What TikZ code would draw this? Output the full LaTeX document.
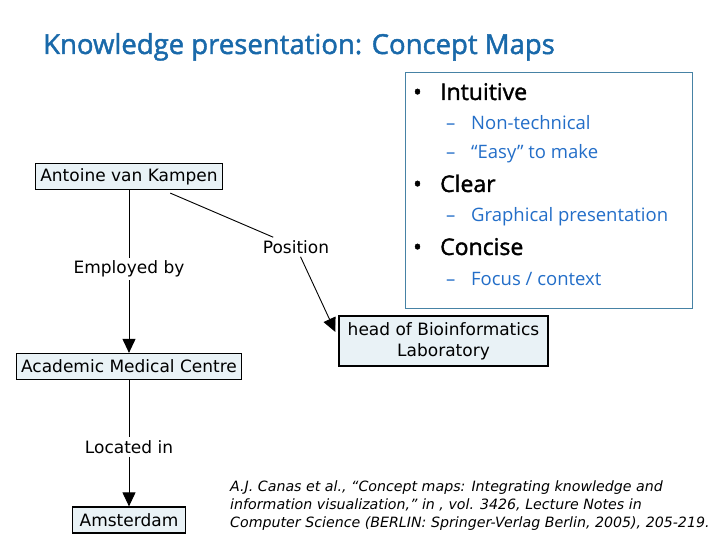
\documentclass[tikz,border=0pt]{standalone}
\usepackage{fontspec}
\setmainfont{DejaVu Sans}
\newfontfamily\slidefont{Open Sans}
\newfontfamily\slideboldfont[FakeBold=1.6]{Open Sans}
\usetikzlibrary{arrows.meta}
\definecolor{titleblue}{RGB}{25,105,170}
\definecolor{itemblue}{RGB}{35,110,200}
\definecolor{frameblue}{RGB}{70,130,165}
\definecolor{conceptfill}{RGB}{233,242,246}

\tikzset{
  concept/.style={draw=black, fill=conceptfill, line width=1.2pt, align=center,
    font=\fontsize{17}{21}\selectfont, inner xsep=5pt, inner ysep=4pt, minimum height=26pt},
  linklabel/.style={font=\fontsize{17}{21}\selectfont, inner sep=3pt},
  linkarrow/.style={-{Triangle[width=13pt,length=14pt]}, line width=0.9pt},
  bulletitem/.style={anchor=base west, inner sep=0pt, font=\slideboldfont\fontsize{23}{26}\selectfont},
  subitem/.style={anchor=base west, inner sep=0pt, text=itemblue, font=\slidefont\fontsize{18.5}{22}\selectfont},
}

\begin{document}
\begin{tikzpicture}[x=1pt,y=-1pt]
\useasboundingbox (0,0) rectangle (720,540);
\node[anchor=base west, inner sep=0pt, text=titleblue, font=\slideboldfont\fontsize{27.5}{32}\selectfont] (title) at (43,54) {Knowledge presentation: Concept Maps};
%features box
\draw[frameblue, line width=1pt] (405,73) rectangle (692,308);
\node[bulletitem] (intuitive) at (413,100) {\makebox[27pt][l]{•}Intuitive};
\node[subitem] (nontech) at (446,130) {\makebox[25pt][l]{–}Non-technical};
\node[subitem] (easy) at (446,159) {\makebox[25pt][l]{–}“Easy” to make};
\node[bulletitem] (clear) at (413,192) {\makebox[27pt][l]{•}Clear};
\node[subitem] (graphical) at (446,222) {\makebox[25pt][l]{–}Graphical presentation};
\node[bulletitem] (concise) at (413,255) {\makebox[27pt][l]{•}Concise};
\node[subitem] (focus) at (446,285) {\makebox[25pt][l]{–}Focus / context};
%concept map
\node[concept] (kampen) at (129,176.5) {Antoine van Kampen};
\node[concept] (amc) at (129,366.5) {Academic Medical Centre};
\node[concept, minimum width=113pt] (amsterdam) at (129,520) {Amsterdam};
\node[concept, minimum height=50pt, minimum width=209pt] (bioinf) at (443.5,341) {head of Bioinformatics\\Laboratory};
\node[linklabel] (employed) at (129,269) {Employed by};
\node[linklabel] (position) at (296,247) {Position};
\node[linklabel] (located) at (129,447) {Located in};
\coordinate (kampenout) at ([xshift=-53pt,yshift=-3pt]kampen.south east);
\coordinate (bioinfin) at ([xshift=-3pt,yshift=9pt]bioinf.west);
\draw[line width=0.9pt] (kampen) -- (employed);
\draw[linkarrow] (employed) -- (amc);
\draw[line width=0.9pt] (position) -- (kampenout);
\draw[linkarrow] (position) -- (bioinfin);
\draw[line width=0.9pt] (amc) -- (located);
\draw[linkarrow] (located) -- (amsterdam);
%reference
\node[anchor=north west, inner sep=0pt, align=left, font=\itshape\fontsize{14.2}{18}\selectfont] (citation) at (230,481)
  {A.J. Canas et al., “Concept maps: Integrating knowledge and\\
   information visualization,” in , vol. 3426, Lecture Notes in\\
   Computer Science (BERLIN: Springer-Verlag Berlin, 2005), 205-219.};
\end{tikzpicture}
\end{document}
